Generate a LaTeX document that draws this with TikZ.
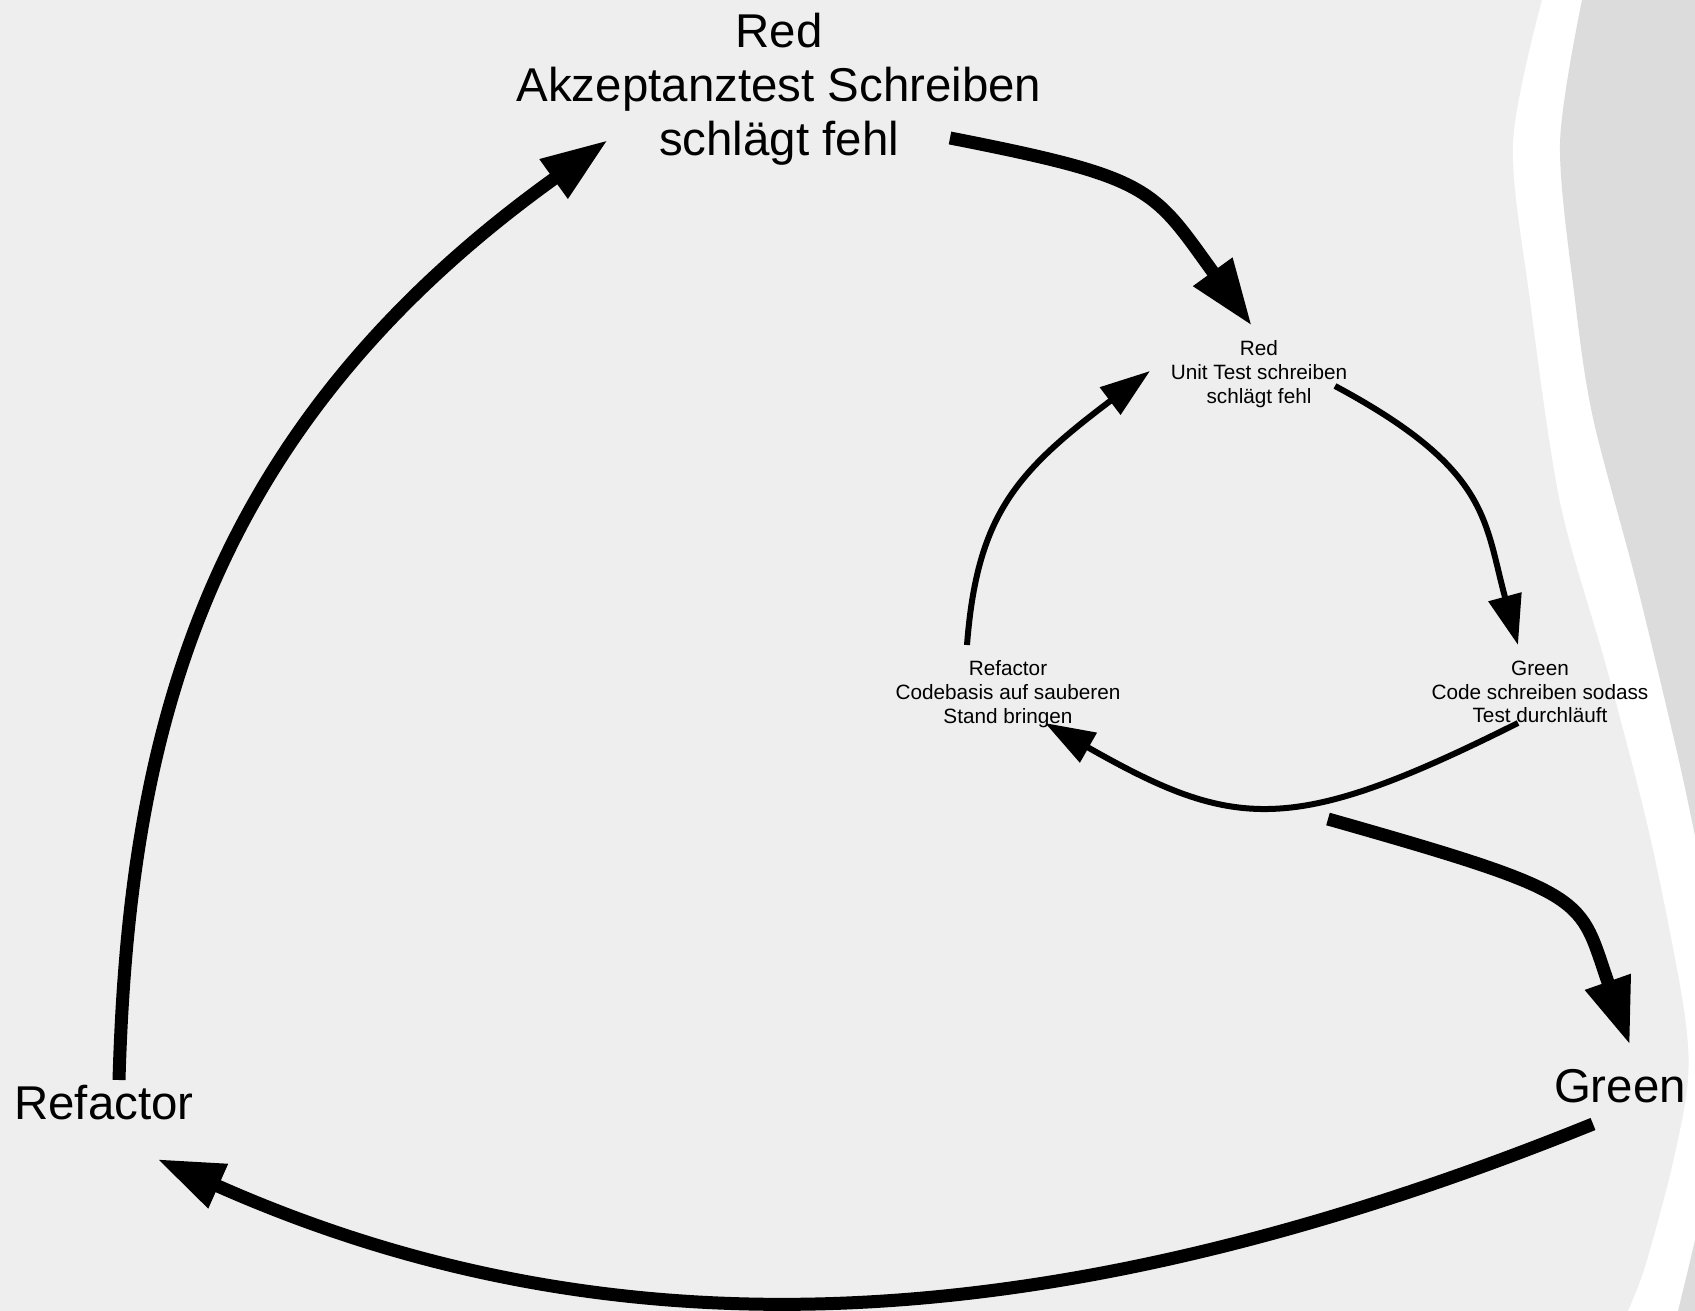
\documentclass[tikz,border=0pt]{standalone}
\usepackage{fontspec}
\setmainfont{Liberation Sans}
\usetikzlibrary{arrows.meta}
\definecolor{pagegray}{HTML}{EEEEEE}
\definecolor{wavegray}{HTML}{DCDCDC}
\begin{document}
\begin{tikzpicture}[x=0.02cm, y=-0.02cm,
    bigphase/.style={font=\fontsize{27}{30.7}\selectfont, align=center, inner sep=0pt},
    smallphase/.style={font=\fontsize{11.8}{13.5}\selectfont, align=center, inner sep=0pt},
    bigflow/.style={line width=0.26cm, -{Triangle[length=1.34cm, width=0.9cm]}},
    smallflow/.style={line width=0.12cm, -{Triangle[length=1cm, width=0.66cm]}}]
  \fill[pagegray] (0,0) rectangle (1695,1311);
  \useasboundingbox (0,0) rectangle (1695,1311);
  \fill[white] plot[smooth] coordinates {(1542,0) (1513,143) (1530,300) (1560,502) (1607,669)
      (1650,836) (1683,1003) (1688,1080) (1672,1167) (1645,1267) (1628,1311)}
    -- (1695,1311) -- (1695,0) -- cycle;
  \fill[wavegray] plot[smooth] coordinates {(1582,0) (1560,143) (1575,300) (1593,418) (1637,585)
      (1677,752) (1695,836)} -- (1695,0) -- cycle;
  \fill[wavegray] (1695,1240) .. controls (1688,1270) .. (1678,1311) -- (1695,1311) -- cycle;

  \node[bigphase] (bigred) at (779,89) {Red\\Akzeptanztest Schreiben\\schlägt fehl};
  \node[bigphase] (bigref) at (104,1103) {Refactor};
  \node[bigphase] (biggreen) at (1620,1086) {Green};
  \node[smallphase] (smallred) at (1259,374) {Red\\Unit Test schreiben\\schlägt fehl};
  \node[smallphase] (smallgreen) at (1540,692) {Green\\Code schreiben sodass\\Test durchläuft};
  \node[smallphase] (smallref) at (1008,694) {Refactor\\Codebasis auf sauberen\\Stand bringen};
  \coordinate (innerout) at (1328,819);

  \draw[smallflow] ([shift={(76,12)}]smallred.center) .. controls +(155,83) and +(-34,-125)
    .. ([shift={(-22,-47)}]smallgreen.center);
  \draw[smallflow] ([shift={(-22,31)}]smallgreen.center) .. controls +(-226,113) and +(190,108)
    .. ([shift={(37,29)}]smallref.center);
  \draw[smallflow] ([shift={(-41,-49)}]smallref.center) .. controls +(10,-130) and +(-134,101)
    .. ([shift={(-109,-3)}]smallred.center);

  \draw[bigflow] ([shift={(171,49)}]bigred.center) .. controls +(204,40) and +(-100,-138)
    .. ([shift={(-7,-48)}]smallred.center);
  \draw[bigflow] (innerout) .. controls +(268,76) and +(-52,-148)
    .. ([shift={(10,-41)}]biggreen.center);
  \draw[bigflow] ([shift={(-27,38)}]biggreen.center) .. controls +(-561,227) and +(441,196)
    .. ([shift={(53,56)}]bigref.center);
  \draw[bigflow] ([shift={(15,-23)}]bigref.center) .. controls +(10,-344) and +(-406,291)
    .. ([shift={(-171,51)}]bigred.center);
\end{tikzpicture}
\end{document}
